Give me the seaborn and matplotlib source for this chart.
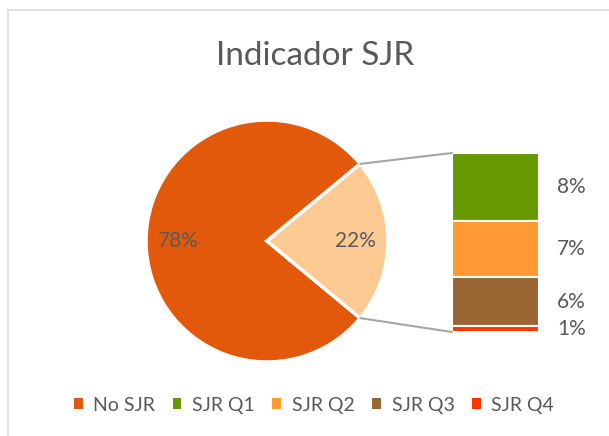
import matplotlib
matplotlib.use("Agg")
import matplotlib.pyplot as plt
import seaborn as sns
import pandas as pd
from matplotlib.patches import Patch, Rectangle, ConnectionPatch
import numpy as np

# Datos
pie_labels = ["No SJR", "SJR"]
pie_values = [78, 22]
bar_labels = ["SJR Q1", "SJR Q2", "SJR Q3", "SJR Q4"]
bar_values = [8.4, 6.9, 6.0, 0.7]
bar_text = ["8%", "7%", "6%", "1%"]

color_no = "#E3590B"
color_rest = "#FDCA94"
bar_colors = ["#669900", "#FF9933", "#996633", "#FF3300"]
txt_color = "#595959"

sns.set_theme(style="white")
plt.rcParams["font.family"] = ["Lato", "DejaVu Sans"]

W, H = 609, 436
fig = plt.figure(figsize=(W / 100, H / 100), dpi=100)

# Borde del área del gráfico
fig.patches.append(Rectangle((8 / W, -0.1), 1.2, (H - 10) / H + 0.1, transform=fig.transFigure,
                             fill=False, edgecolor="#D9D9D9", linewidth=1.2))

fig.text(315 / W, 1 - 56 / H, "Indicador SJR", ha="center", va="center",
         fontsize=24, color=txt_color)

# Pastel
ax_pie = fig.add_axes([146 / W, 1 - 362 / H, 242 / W, 242 / H])
half = pie_values[1] / 100 * 360 / 2
wedges, _, autotexts = ax_pie.pie(
    pie_values, colors=[color_no, color_rest], startangle=half,
    autopct=lambda p: f"{p:.0f}%", pctdistance=0.73,
    wedgeprops=dict(edgecolor="white", linewidth=2.5),
    textprops=dict(color=txt_color, fontsize=15),
)
ax_pie.set_xlim(-1.0, 1.0)
ax_pie.set_ylim(-1.0, 1.0)
ax_pie.axis("off")

# Barra apilada
ax_bar = fig.add_axes([452 / W, 1 - 332 / H, 87 / W, 179 / H])
df = pd.DataFrame({"cat": bar_labels, "val": bar_values, "txt": bar_text})
tops = df["val"][::-1].cumsum()[::-1].to_numpy()
bottoms = tops - df["val"].to_numpy()
for (_, row), b, c in zip(df.iterrows(), bottoms, bar_colors):
    ax_bar.bar(0, row["val"], bottom=b, width=1, color=c, edgecolor="white", linewidth=1.5)
    ax_bar.text(1.37, b + row["val"] / 2, row["txt"], transform=ax_bar.get_yaxis_transform(),
                ha="center", va="center", fontsize=15, color=txt_color)
total = sum(bar_values)
ax_bar.set_xlim(-0.5, 0.5)
ax_bar.set_ylim(0, total)
ax_bar.axis("off")

# Líneas de conexión
ang = np.deg2rad(half)
for sgn, yb in [(1, total), (-1, 0)]:
    con = ConnectionPatch(xyA=(np.cos(ang), sgn * np.sin(ang)), coordsA=ax_pie.transData,
                          xyB=(-0.5, yb), coordsB=ax_bar.transData,
                          color="#A6A6A6", linewidth=1.5)
    fig.add_artist(con)

# Leyenda
handles = [Patch(facecolor=c, edgecolor="none") for c in [color_no] + bar_colors]
names = ["No SJR"] + bar_labels
fig.legend(handles, names, loc="center", bbox_to_anchor=(314 / W, 1 - 405 / H), ncol=5,
           frameon=False, fontsize=14, handlelength=0.45, handleheight=0.45,
           handletextpad=0.55, columnspacing=0.9, labelcolor=txt_color)

fig.savefig("out.png", dpi=100)
